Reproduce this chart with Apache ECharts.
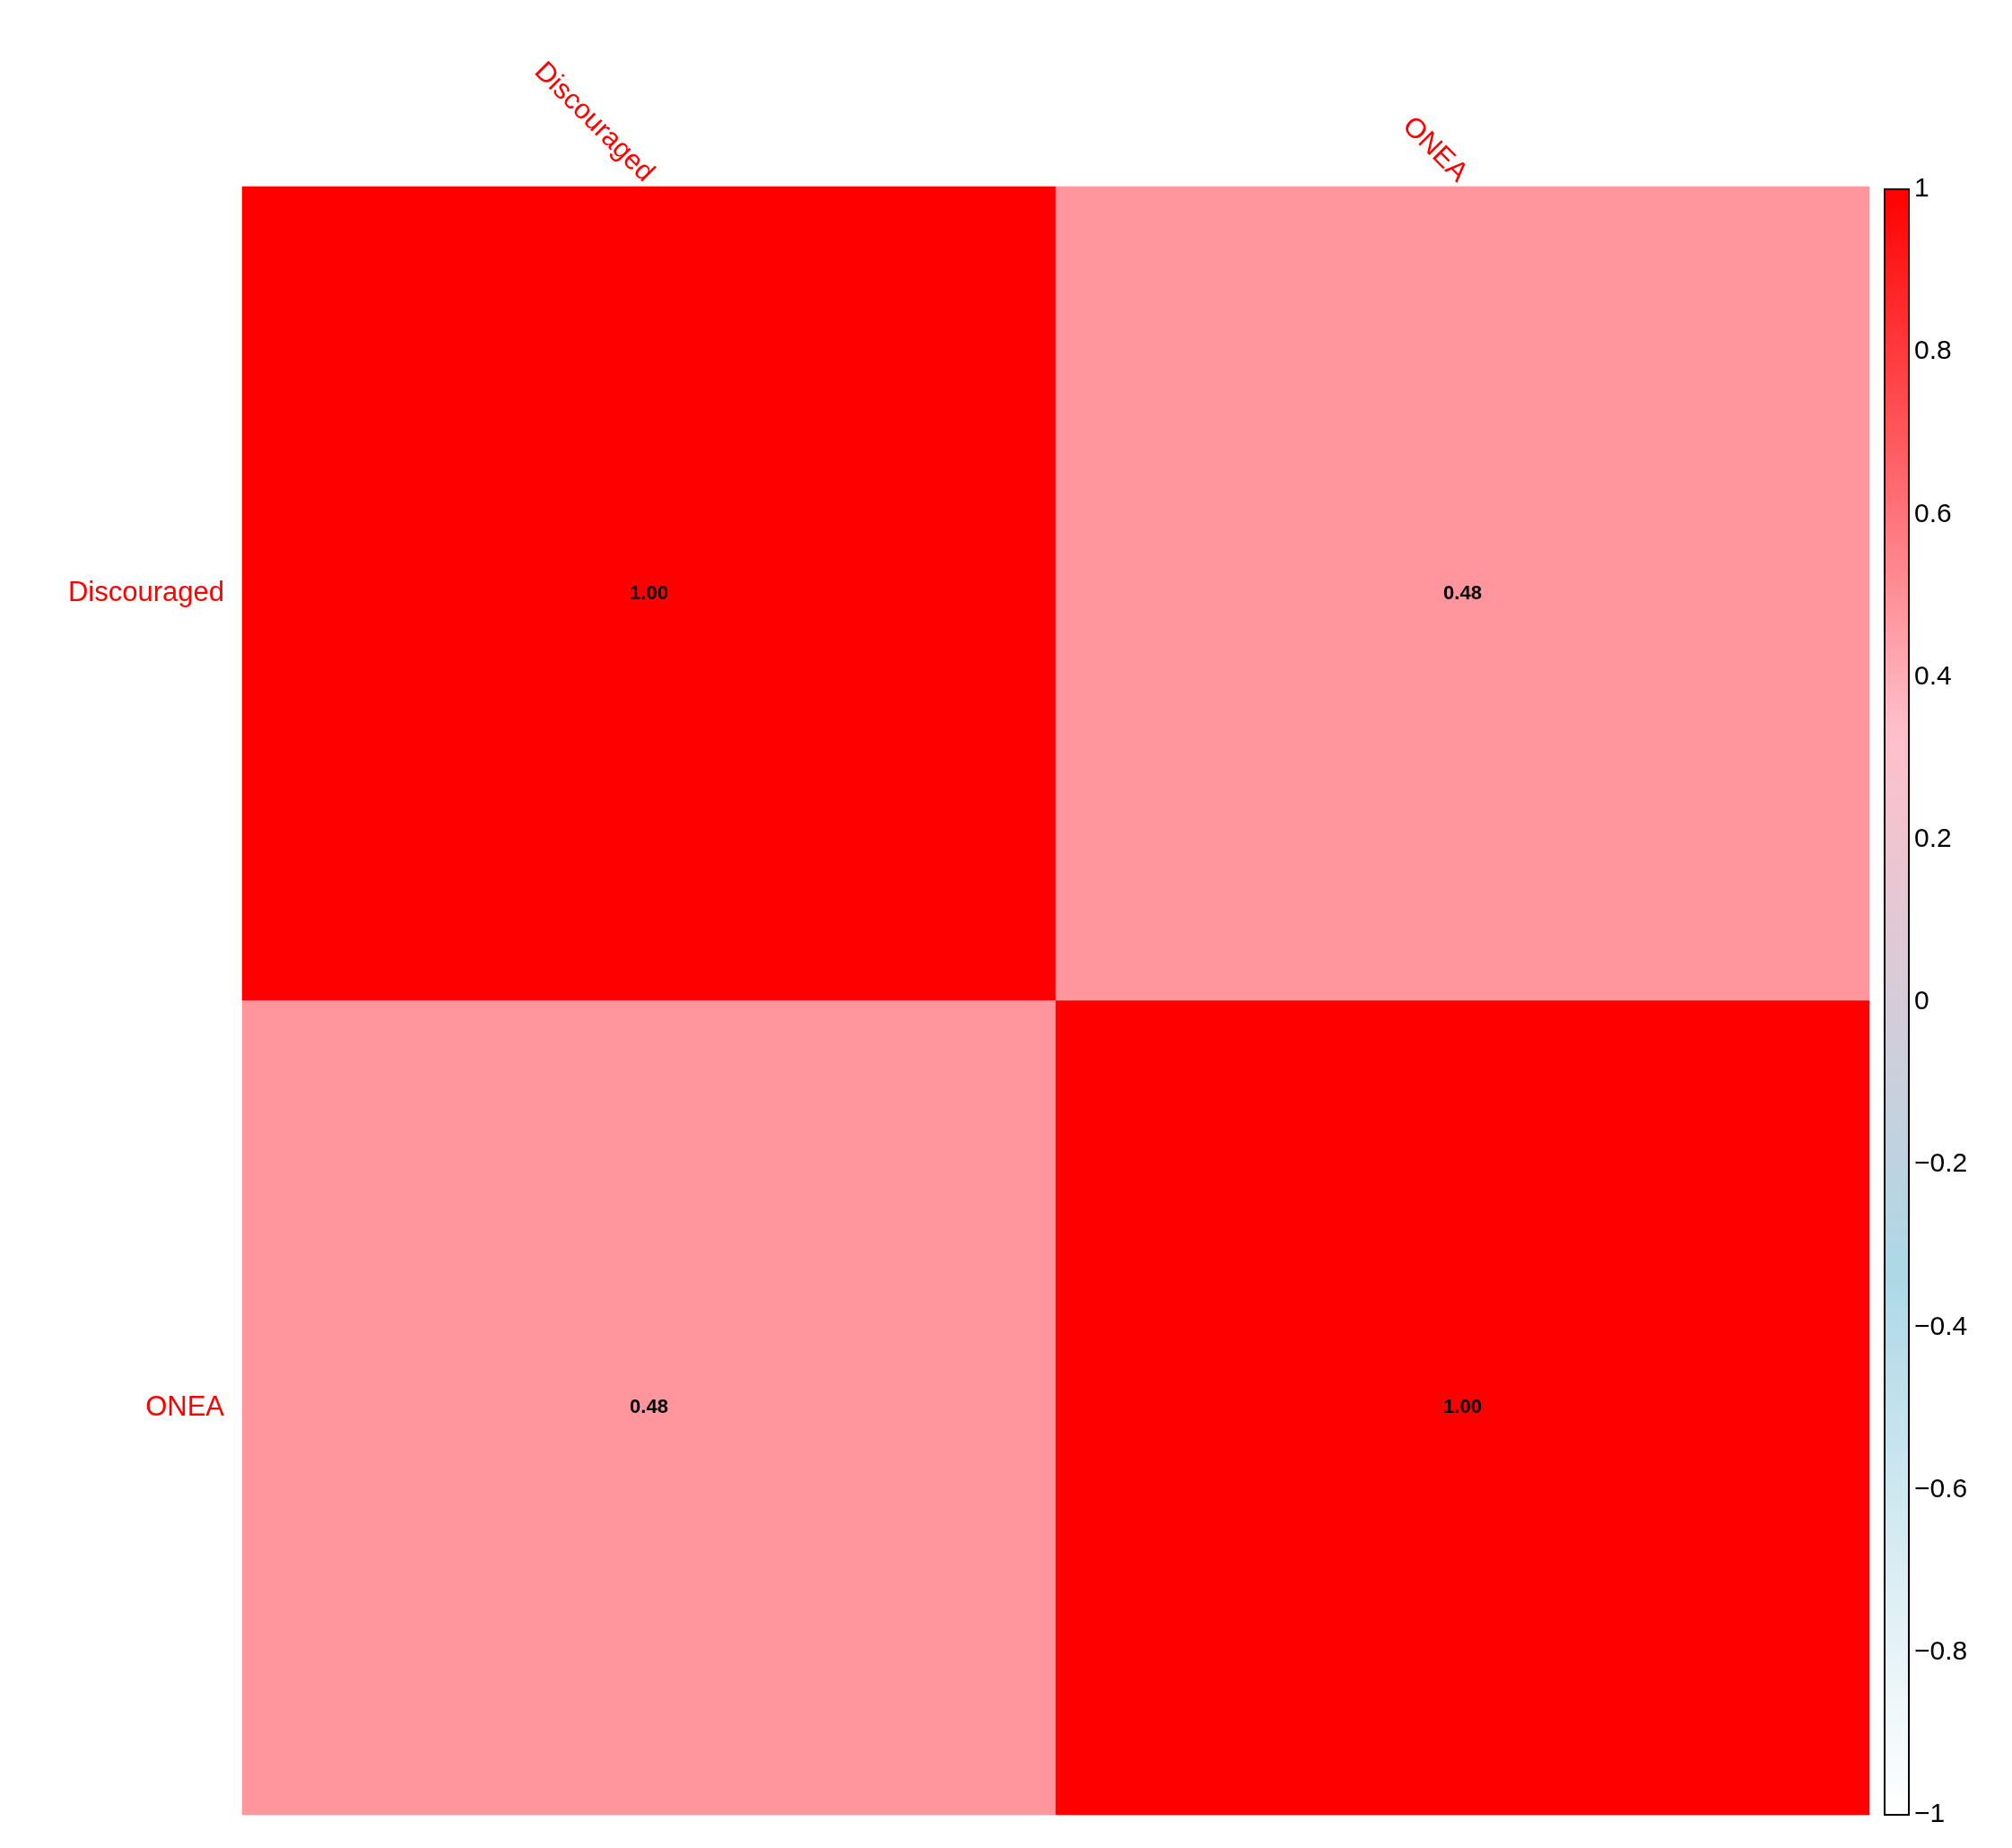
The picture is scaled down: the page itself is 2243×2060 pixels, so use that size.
<!DOCTYPE html>
<html><head><meta charset="utf-8">
<script src="https://cdn.jsdelivr.net/npm/echarts@6/dist/echarts.min.js"></script>
<style>html,body{margin:0;padding:0;background:#fff}#c{width:2243px;height:2060px}</style>
</head><body><div id="c"></div>
<script>
const variables = ['Discouraged', 'ONEA'];
const corrRows = [
  [1.00, 0.48],
  [0.48, 1.00]
];
const colorbarTicks = [-1, -0.8, -0.6, -0.4, -0.2, 0, 0.2, 0.4, 0.6, 0.8, 1];

const data = [];
corrRows.forEach((row, i) => row.forEach((v, j) => data.push([j, i, v])));

const chart = echarts.init(document.getElementById('c'));
const F = 'Arial, "Liberation Sans", sans-serif';
chart.setOption({
  backgroundColor: '#fff',
  animation: false,
  grid: [
    {left: 270, width: 1814, top: 208, height: 1815},
    {left: 2101, width: 27, top: 211, height: 1812, show: true, borderColor: '#000', borderWidth: 2, backgroundColor: 'transparent', z: 10}
  ],
  xAxis: [
    {type: 'category', data: variables, position: 'top', gridIndex: 0,
     axisLine: {show: false}, axisTick: {show: false}, splitLine: {show: false},
     axisLabel: {rotate: 45, color: '#ff0000', fontSize: 31, fontFamily: F, margin: 10}},
    {type: 'value', gridIndex: 1, show: false, min: 0, max: 1}
  ],
  yAxis: [
    {type: 'category', data: variables, inverse: true, gridIndex: 0,
     axisLine: {show: false}, axisTick: {show: false}, splitLine: {show: false},
     axisLabel: {color: '#ff0000', fontSize: 31, fontFamily: F, margin: 20}},
    {type: 'value', gridIndex: 1, position: 'right', min: -1, max: 1, interval: 0.2,
     axisLine: {show: false}, splitLine: {show: false},
     axisTick: {show: true, length: 12, lineStyle: {color: '#000', width: 2}},
     axisLabel: {color: '#000', fontSize: 30, fontFamily: F, margin: 6,
       formatter: v => { const r = Math.round(v * 10) / 10; return (r < 0 ? '\u2212' : '') + String(Math.abs(r)); }}}
  ],
  visualMap: {
    type: 'continuous', min: -1, max: 1, calculable: false, seriesIndex: 0,
    inRange: {color: ['#FFFFFF', '#ADD8E6', '#FFC0CB', '#FF0000']},
    orient: 'vertical', left: 2101, top: 211, itemWidth: 27, itemHeight: 1812,
    text: ['', ''], showLabel: false, textStyle: {fontSize: 0}, padding: 0
  },
  series: [{
    type: 'heatmap', xAxisIndex: 0, yAxisIndex: 0, data: data,
    label: {show: true, formatter: p => p.value[2].toFixed(2), color: '#000', fontWeight: 'bold', fontSize: 22, fontFamily: F},
    itemStyle: {borderWidth: 0}
  }]
});
</script></body></html>
